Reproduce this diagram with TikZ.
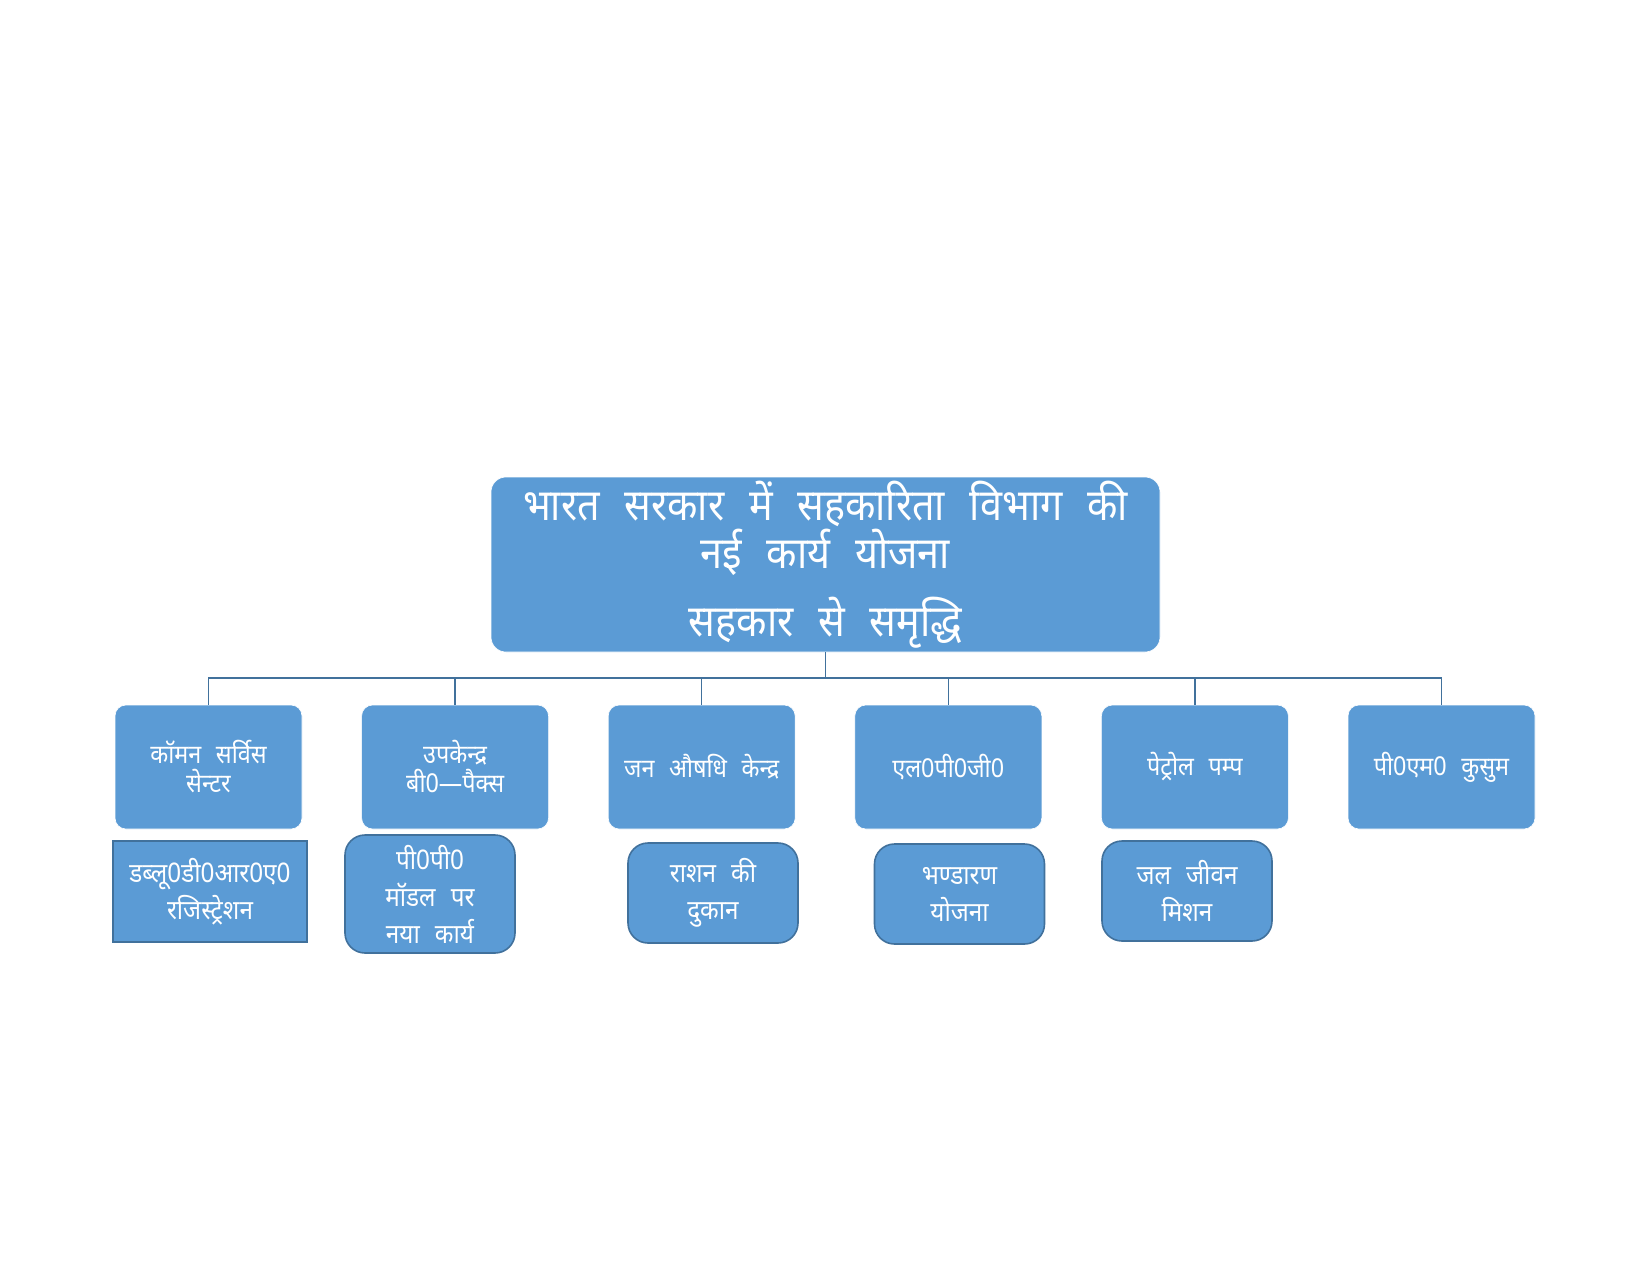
\documentclass[tikz,border=0pt]{standalone}
\usepackage{fontspec}
\newfontfamily\dev[Script=Devanagari,FakeStretch=0.9,WordSpace=2.4]{Noto Sans}
\definecolor{boxblue}{HTML}{5B9BD5}
\definecolor{lineblue}{HTML}{41719C}
\begin{document}
\begin{tikzpicture}[x=1pt,y=-1pt,
  mainbox/.style={fill=boxblue,draw=white,line width=0.6pt,rounded corners=15pt,
    minimum width=669pt,minimum height=175pt,inner sep=0pt,text=white,align=center,
    font=\dev\fontsize{44}{48}\selectfont},
  topbox/.style={fill=boxblue,draw=white,line width=0.6pt,rounded corners=11pt,
    minimum width=187pt,minimum height=124pt,inner sep=0pt,text=white,align=center,
    font=\dev\fontsize{26}{29}\selectfont},
  subbox/.style={fill=boxblue,draw=lineblue,line width=1.6pt,rounded corners=20pt,
    minimum width=170pt,minimum height=100pt,inner sep=0pt,text=white,align=center,
    font=\dev\fontsize{27}{37}\selectfont},
  conn/.style={draw=lineblue,line width=1.3pt}]
\useasboundingbox (0,0) rectangle (1650,1275);
\fill[white] (0,0) rectangle (1650,1275);

\node[mainbox] (main) at (825.5,564.5) {भारत सरकार में सहकारिता विभाग की\\नई कार्य योजना\\[20pt]सहकार से समृद्धि};

\node[topbox] (t1) at (208.5,767) {कॉमन सर्विस\\सेन्टर};
\node[topbox] (t2) at (455.1,767) {उपकेन्द्र\\बी0—पैक्स};
\node[topbox] (t3) at (701.7,767) {जन औषधि केन्द्र};
\node[topbox] (t4) at (948.3,767) {एल0पी0जी0};
\node[topbox] (t5) at (1194.9,767) {पेट्रोल पम्प};
\node[topbox] (t6) at (1441.5,767) {पी0एम0 कुसुम};

\coordinate (bus) at (825.5,678);
\draw[conn] (main.south) -- (bus);
\foreach \i in {1,...,6}{\draw[conn] (bus) -| (t\i.north);}

\node[subbox,rounded corners=0pt,minimum width=194pt,minimum height=101pt] (b1) at (210,891.5) {डब्लू0डी0आर0ए0\\रजिस्ट्रेशन};
\node[subbox,minimum height=118pt] (b2) at (430,894) {पी0पी0\\मॉडल पर\\नया कार्य};
\node[subbox] (b3) at (713,893) {राशन की\\दुकान};
\node[subbox] (b4) at (959.5,894) {भण्डारण\\योजना};
\node[subbox] (b5) at (1187,891) {जल जीवन\\मिशन};
\end{tikzpicture}
\end{document}
